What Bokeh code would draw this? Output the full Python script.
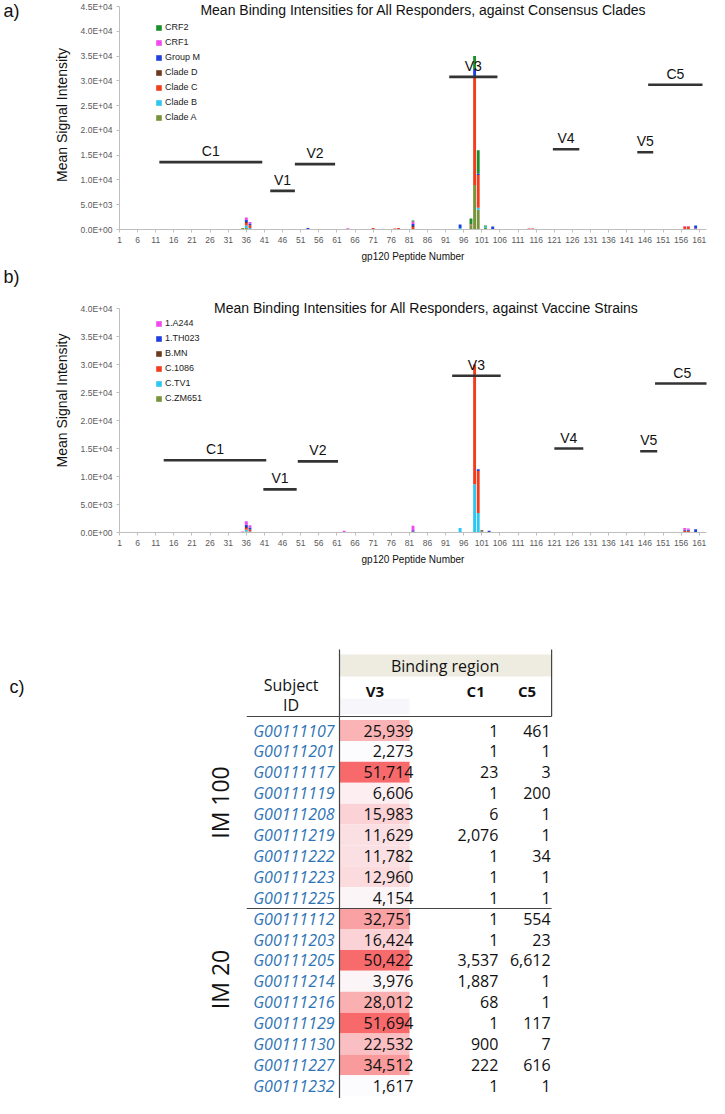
import math
from bokeh.plotting import figure
from bokeh.models import (Range1d, FixedTicker, Label, Legend, LegendItem, LinearAxis,
                          ColumnDataSource, LinearColorMapper)
from bokeh.layouts import column
from bokeh.embed import file_html
from bokeh.resources import INLINE
from bokeh.core.properties import value

# ---------------- data : panel a (consensus clades) ----------------
peptides_a = [35, 36, 37, 53, 64, 71, 77, 78, 82, 95, 98, 99, 100, 102, 104, 114, 115, 157, 158, 160]
clade_a = [300, 300, 0, 0, 0, 0, 0, 0, 0, 0, 800, 9000, 4000, 300, 0, 0, 0, 0, 0, 0]
clade_b = [0, 500, 300, 0, 0, 0, 0, 0, 0, 300, 0, 0, 400, 300, 0, 0, 0, 0, 0, 0]
clade_c = [0, 500, 500, 0, 0, 300, 200, 300, 500, 0, 200, 21800, 6600, 0, 0, 200, 200, 600, 600, 200]
clade_d = [0, 200, 100, 0, 0, 0, 0, 0, 200, 0, 0, 0, 0, 0, 0, 0, 0, 0, 0, 0]
group_m = [0, 400, 300, 300, 0, 0, 0, 0, 400, 700, 0, 1600, 300, 0, 600, 0, 0, 0, 0, 600]
crf1 = [0, 500, 300, 0, 250, 0, 0, 0, 500, 0, 0, 0, 0, 0, 0, 0, 0, 100, 100, 0]
crf2 = [0, 0, 0, 0, 0, 0, 0, 0, 200, 0, 1200, 2600, 4700, 200, 0, 0, 0, 0, 0, 0]
series_a = ["Clade A", "Clade B", "Clade C", "Clade D", "Group M", "CRF1", "CRF2"]

# ---------------- data : panel b (vaccine strains) ----------------
peptides_b = [35, 36, 37, 63, 82, 95, 99, 100, 101, 103, 157, 158, 160]
c_zm651 = [0, 200, 0, 0, 0, 0, 0, 0, 0, 0, 0, 0, 0]
c_tv1 = [0, 300, 200, 0, 0, 800, 8600, 3500, 200, 0, 0, 0, 0]
c_1086 = [0, 300, 300, 0, 200, 0, 21400, 7500, 0, 0, 300, 300, 0]
b_mn = [0, 200, 100, 0, 0, 0, 0, 0, 200, 0, 0, 0, 0]
a_th023 = [0, 400, 300, 0, 200, 0, 0, 300, 0, 300, 200, 200, 600]
a_a244 = [200, 600, 400, 300, 800, 0, 0, 0, 0, 0, 300, 200, 0]
series_b = ["C.ZM651", "C.TV1", "C.1086", "B.MN", "1.TH023", "1.A244"]

# ---------------- gp120 regions ----------------
regions = ["C1", "V1", "V2", "V3", "V4", "V5", "C5"]
reg_a_start = [12, 42.6, 49.4, 92, 120.6, 143.9, 146.9]
reg_a_end = [40.4, 49.4, 60.5, 105.3, 127.9, 148.3, 161.9]
reg_a_level = [13600, 7800, 13200, 30800, 16200, 15600, 29200]
reg_b_start = [13.2, 40.7, 50.2, 92.8, 121, 144.7, 148.8]
reg_b_end = [41.5, 49.9, 61.3, 106.2, 129, 149.4, 163.8]
reg_b_level = [12900, 7700, 12700, 28000, 15000, 14500, 26600]

x_ticks = [1, 6, 11, 16, 21, 26, 31, 36, 41, 46, 51, 56, 61, 66, 71, 76, 81, 86, 91, 96,
           101, 106, 111, 116, 121, 126, 131, 136, 141, 146, 151, 156, 161]
y_ticks_a = [0, 5000, 10000, 15000, 20000, 25000, 30000, 35000, 40000, 45000]
y_ticks_b = [0, 5000, 10000, 15000, 20000, 25000, 30000, 35000, 40000]

# ---------------- data : panel c (table) ----------------
groups = ["IM 100", "IM 20"]
subject_ids = ["G00111107", "G00111201", "G00111117", "G00111119", "G00111208", "G00111219",
               "G00111222", "G00111223", "G00111225",
               "G00111112", "G00111203", "G00111205", "G00111214", "G00111216", "G00111129",
               "G00111130", "G00111227", "G00111232"]
v3_vals = [25939, 2273, 51714, 6606, 15983, 11629, 11782, 12960, 4154,
           32751, 16424, 50422, 3976, 28012, 51694, 22532, 34512, 1617]
c1_vals = [1, 1, 23, 1, 6, 2076, 1, 1, 1,
           1, 1, 3537, 1887, 68, 1, 900, 222, 1]
c5_vals = [461, 1, 3, 200, 1, 1, 34, 1, 1,
           554, 23, 6612, 1, 1, 117, 7, 616, 1]

# ---------------- styling / page geometry (page pixels) ----------------
FONT = "Liberation Sans"
colors_a = ["#77933C", "#2CC6F0", "#F23C1E", "#6B3A1F", "#1F3FE0", "#F04BEF", "#1E8C2A"]
colors_b = ["#77933C", "#2CC6F0", "#F23C1E", "#6B3A1F", "#1F3FE0", "#F04BEF"]
AXIS_GREY = "#BFBFBF"
LABEL_GREY = "#595959"
W = 717
FRAME_L, FRAME_R = 119, 714          # common frame edges (page x)
XR = (1, 163)


def tag_axis(p, range_name, page_y, text, standoff):
    ax = LinearAxis(y_range_name=range_name, ticker=FixedTicker(ticks=[page_y]),
                    bounds=(page_y - 1, page_y + 1), major_label_overrides={page_y: text},
                    axis_line_color=None, major_tick_line_color=None,
                    minor_tick_line_color=None, major_tick_out=0, major_tick_in=0,
                    major_label_standoff=standoff, major_label_text_font=FONT,
                    major_label_text_font_size="18px", major_label_text_color="#111111")
    p.add_layout(ax, "left")


def chart(fig_top, fig_bot, frame_top, zero_y, ytop_val, ytop_y, peps, stacks, names, colors,
          y_ticks, title, title_xy, tag, tag_y, rs, re, rl, legend_xy):
    upp = ytop_val / (zero_y - ytop_y)             # data units per pixel
    y_end = (zero_y - frame_top) * upp
    p = figure(width=W, height=fig_bot - fig_top, x_range=Range1d(*XR),
               y_range=Range1d(0, y_end), output_backend="svg", toolbar_location=None,
               min_border_left=FRAME_L - 8, min_border_right=725 - FRAME_R,
               min_border_top=frame_top - fig_top, min_border_bottom=fig_bot - zero_y)
    p.extra_y_ranges = {"page": Range1d(start=zero_y, end=frame_top)}
    p.outline_line_color = None
    p.grid.visible = False
    data = {"pep": peps}
    keys = []
    for i, s in enumerate(stacks):
        k = "s%d" % i
        data[k] = s
        keys.append(k)
    src = ColumnDataSource(data)
    rends = p.vbar_stack(keys, x="pep", width=0.8, color=colors, line_color=None, source=src)
    items = [LegendItem(label=names[i], renderers=[rends[i]]) for i in range(len(names))][::-1]
    leg = Legend(items=items, location=legend_xy, padding=0, margin=0, spacing=3,
                 glyph_width=7, glyph_height=7, label_height=12, label_standoff=3,
                 label_text_font=FONT, label_text_font_size="9px", label_text_color="#222222",
                 border_line_color=None, background_fill_alpha=0)
    p.add_layout(leg)
    p.segment(x0=rs, y0=rl, x1=re, y1=rl, line_width=2.6, line_color="#333333")
    p.text(x=[(a + b) / 2 for a, b in zip(rs, re)], y=rl, text=regions, text_align="center",
           text_baseline="bottom", y_offset=-3, text_font=value(FONT), text_font_size="14px",
           text_color="#111111")
    p.xaxis.ticker = FixedTicker(ticks=x_ticks)
    p.yaxis.ticker = FixedTicker(ticks=y_ticks)
    p.yaxis.bounds = (0, ytop_val)
    p.yaxis.major_label_overrides = {v: "%.1E" % v for v in y_ticks}
    for ax in (p.xaxis, p.yaxis):
        ax.axis_line_color = AXIS_GREY
        ax.major_tick_line_color = AXIS_GREY
        ax.major_tick_out = 3
        ax.major_tick_in = 0
        ax.minor_tick_line_color = None
        ax.major_label_text_font = FONT
        ax.major_label_text_font_size = "8.5px"
        ax.major_label_text_color = LABEL_GREY
        ax.axis_label_text_font = FONT
        ax.axis_label_text_font_style = "normal"
        ax.axis_label_text_color = "#111111"
    p.xaxis.major_label_standoff = 4
    p.xaxis.axis_label = "gp120 Peptide Number"
    p.xaxis.axis_label_text_font_size = "10px"
    p.xaxis.axis_label_standoff = 5
    p.yaxis.major_label_standoff = 4
    p.yaxis.axis_label = "Mean Signal Intensity"
    p.yaxis.axis_label_text_font_size = "14px"
    p.yaxis.axis_label_standoff = 8
    px = (XR[1] - XR[0]) / (FRAME_R - FRAME_L)
    p.add_layout(Label(x=XR[0] + (title_xy[0] - FRAME_L) * px, y=(zero_y - title_xy[1]) * upp,
                       text=title, text_align="center", text_baseline="middle",
                       text_font=FONT, text_font_size="14px", text_color="#111111"))
    tag_axis(p, "page", tag_y, tag, 31)
    return p


pa = chart(8, 274, 8, 237, 45000, 14, peptides_a,
           [clade_a, clade_b, clade_c, clade_d, group_m, crf1, crf2], series_a, colors_a,
           y_ticks_a, "Mean Binding Intensities for All Responders, against Consensus Clades",
           (427, 17), "a)", 18, reg_a_start, reg_a_end, reg_a_level, (36, 106))

pb = chart(274, 585, 276, 540, 40000, 316, peptides_b,
           [c_zm651, c_tv1, c_1086, b_mn, a_th023, a_a244], series_b, colors_b,
           y_ticks_b, "Mean Binding Intensities for All Responders, against Vaccine Strains",
           (430, 315), "b)", 284, reg_b_start, reg_b_end, reg_b_level, (36, 128))

# ---------------- panel c : table ----------------
ROW0, ROWH = 738.0, 20.9
TOP, BOT = 585, 1106


def ry(page_y):
    return (page_y - ROW0) / ROWH


pc = figure(width=W, height=BOT - TOP, x_range=Range1d(FRAME_L, FRAME_R),
            y_range=Range1d(ry(BOT), ry(TOP)), x_axis_type=None, y_axis_type=None,
            output_backend="svg", toolbar_location=None,
            min_border_left=FRAME_L - 8, min_border_right=725 - FRAME_R,
            min_border_top=0, min_border_bottom=0)
pc.extra_y_ranges = {"page": Range1d(start=BOT, end=TOP)}
pc.outline_line_color = None
pc.grid.visible = False

rows = list(range(len(subject_ids)))
tsrc = ColumnDataSource(dict(
    row=rows, ids=subject_ids, v3=v3_vals,
    v3s=["{:,}".format(v) for v in v3_vals],
    c1s=["{:,}".format(v) for v in c1_vals],
    c5s=["{:,}".format(v) for v in c5_vals]))

n = 64
lo, hi = (252, 252, 255), (248, 105, 107)
palette = ["#%02x%02x%02x" % tuple(int(round(lo[j] + (hi[j] - lo[j]) * i / (n - 1))) for j in range(3))
           for i in range(n)]
mapper = LinearColorMapper(palette=palette, low=min(v3_vals), high=max(v3_vals))

pc.quad(left=[342], right=[557], top=[ry(662)], bottom=[ry(684)], fill_color="#EEECE1", line_color=None)
pc.quad(left=[342], right=[413], top=[ry(706)], bottom=[ry(722)], fill_color="#F7F7FB", line_color=None)
pc.rect(x=377.5, y="row", width=71, height=1.0, source=tsrc, line_color=None,
        fill_color={"field": "v3", "transform": mapper})

pc.segment(x0=[342, 557, 248, 248], y0=[ry(657), ry(657), ry(724), ry(916)],
           x1=[342, 557, 557, 557], y1=[ry(BOT), ry(724), ry(724), ry(916)],
           line_color="#444444", line_width=1.2)

TF = value("Open Sans")
pc.text(x=337, y="row", text="ids", source=tsrc, text_align="right", text_baseline="middle",
        text_font=TF, text_font_style="italic", text_font_size="16px", text_color="#2F74B5")
pc.text(x=417, y="row", text="v3s", source=tsrc, text_align="right", text_baseline="middle",
        text_font=TF, text_font_size="16px", text_color="#111111")
pc.text(x=503, y="row", text="c1s", source=tsrc, text_align="right", text_baseline="middle",
        text_font=TF, text_font_size="16px", text_color="#111111")
pc.text(x=556, y="row", text="c5s", source=tsrc, text_align="right", text_baseline="middle",
        text_font=TF, text_font_size="16px", text_color="#111111")

pc.text(x=[293, 293], y=[ry(692), ry(712)], text=["Subject", "ID"], text_align="center",
        text_baseline="middle", text_font=TF, text_font_size="16px", text_color="#111111")
pc.text(x=[449], y=[ry(673)], text=["Binding region"], text_align="center",
        text_baseline="middle", text_font=TF, text_font_size="16px", text_color="#111111")
pc.text(x=[378, 480, 532], y=[ry(698)] * 3, text=["V3", "C1", "C5"], text_align="center",
        text_baseline="middle", text_font=TF, text_font_style="bold", text_font_size="15px",
        text_color="#111111")
pc.text(x=[221, 221], y=[ry(810), ry(987)], text=groups, angle=math.pi / 2,
        text_align="center", text_baseline="middle", text_font=TF, text_font_size="23px",
        text_color="#111111")
tag_axis(pc, "page", 694, "c)", 95)

layout = column(pa, pb, pc, spacing=0)
open("out.html", "w").write(file_html(layout, INLINE))
